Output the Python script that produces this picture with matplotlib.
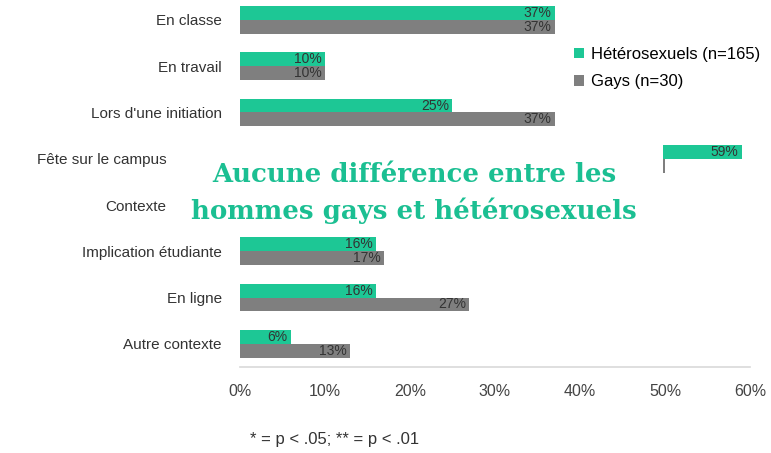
import matplotlib.pyplot as plt
from matplotlib.patches import Rectangle
from matplotlib.transforms import ScaledTranslation
import numpy as np

plt.rcParams['font.family'] = ['Liberation Sans', 'DejaVu Sans']

categories = ["En classe", "En travail", "Lors d'une initiation", "Fête sur le campus",
              "Contexte", "Implication étudiante", "En ligne", "Autre contexte"]
hetero = [37, 10, 25, 59, 0, 16, 16, 6]
gays = [37, 10, 37, 50, 0, 17, 27, 13]
ticks = [0, 10, 20, 30, 40, 50, 60]

green = '#1dc795'
grey = '#7f7f7f'

fig = plt.figure(figsize=(7.71, 4.53), dpi=100)
ax = fig.add_axes([0.311, 0.19, 0.662, 0.817])

y = np.arange(len(categories))
h = 0.3
b1 = ax.barh(y - h / 2, hetero, height=h, color=green, label='Hétérosexuels (n=165)')
b2 = ax.barh(y + h / 2, gays, height=h, color=grey, label='Gays (n=30)')

for bars, vals in [(b1, hetero), (b2, gays)]:
    for bar, v in zip(bars, vals):
        if v > 0:
            ax.text(bar.get_width() - 0.4, bar.get_y() + bar.get_height() / 2, f'{v}%',
                    ha='right', va='center', fontsize=10, color='#333333')

ax.set_ylim(len(categories) - 0.5, -0.5)
ax.set_yticks(y)
ax.set_yticklabels(categories, fontsize=11, color='#333333')
ax.set_xlim(0, 60)
ax.set_xticks(ticks)
ax.set_xticklabels([f'{t}%' for t in ticks], fontsize=11.5, color='#444444')
ax.tick_params(axis='y', length=0, pad=13)
ax.tick_params(axis='x', length=0, pad=12)
for s in ['top', 'right', 'left']:
    ax.spines[s].set_visible(False)
ax.spines['bottom'].set_color('#d9d9d9')
ax.spines['bottom'].set_linewidth(1.2)

# the two middle labels sit further left in the original
shift = ScaledTranslation(-0.55, 0, fig.dpi_scale_trans)
for lab in ax.get_yticklabels()[3:5]:
    lab.set_transform(lab.get_transform() + shift)

# white box hiding the middle rows
ax.add_patch(Rectangle((-0.5, 2.55), 50.2, 2.0, facecolor='white', edgecolor='none',
                       zorder=5, clip_on=False))
fig.text(0.537, 0.574, "Aucune différence entre les\nhommes gays et hétérosexuels",
         ha='center', va='center', fontsize=18.7, fontweight='bold', color='#1bbf92',
         family='DejaVu Serif', linespacing=1.5, zorder=6)

ax.legend(loc='upper left', bbox_to_anchor=(0.626, 0.905), frameon=False, fontsize=12,
          handlelength=0.6, handleheight=0.6, handletextpad=0.4, labelspacing=0.75)

fig.text(0.324, 0.02, '* = p < .05; ** = p < .01', fontsize=12, color='#333333')

fig.savefig('out.png', dpi=100)
